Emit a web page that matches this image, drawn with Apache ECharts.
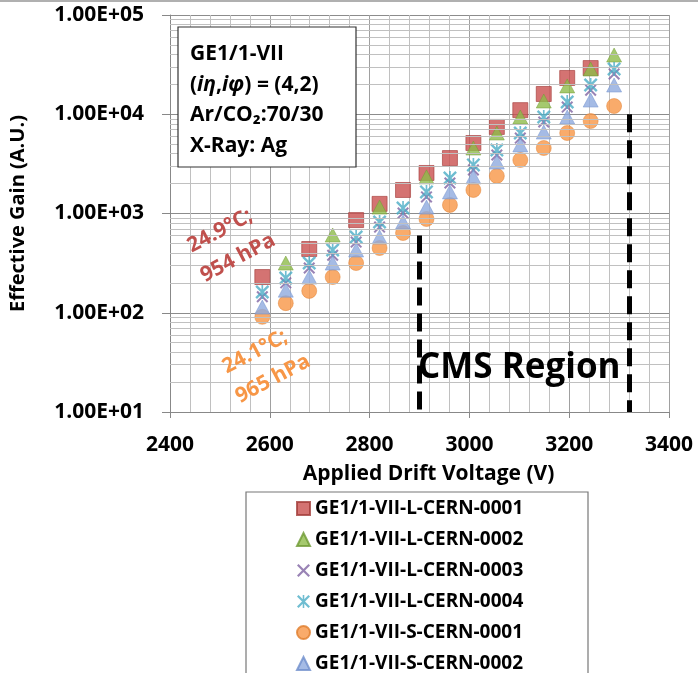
<!DOCTYPE html>
<html>
<head>
<meta charset="utf-8">
<script src="https://cdn.jsdelivr.net/npm/echarts@6/dist/echarts.min.js"></script>
<style>
  html, body { margin: 0; padding: 0; background: #fff; }
  #chart { width: 698px; height: 673px; }
</style>
</head>
<body>
<div id="chart"></div>
<script>
// drift voltage steps (V)
var voltages = [2585, 2632, 2679, 2726, 2773, 2820, 2867, 2914, 2961, 3008, 3055, 3102, 3149, 3196, 3243, 3290];

// effective gain per chamber, null = no point at that voltage
var gainL1 = [229, null, 439, null, 859, 1250, 1726, 2560, 3620, 5130, 7450, 11000, 16000, 23200, 29200, null];
var gainL2 = [null, 317, null, 607, null, 1160, null, 2340, null, 4570, 6470, 9380, 13600, 19300, 28600, 39500];
var gainL3 = [145, 200, 282, 380, 515, 730, 1010, 1470, 2030, 2750, 3890, 5750, 8350, 11800, 17500, 25500];
var gainL4 = [162, 224, 317, 429, 580, 820, 1135, 1650, 2280, 3085, 4365, 6470, 9380, 13280, 19700, 28600];
var gainS1 = [91, 125, 166, 229, 317, 449, 636, 881, 1220, 1726, 2390, 3460, 4570, 6470, 8550, 12100];
var gainS2 = [114, 169, 229, 317, 429, 580, 820, 1160, 1650, 2335, 3300, 4900, 6620, 9380, 13900, 19700];

var seriesNames = [
  "GE1/1-VII-L-CERN-0001",
  "GE1/1-VII-L-CERN-0002",
  "GE1/1-VII-L-CERN-0003",
  "GE1/1-VII-L-CERN-0004",
  "GE1/1-VII-S-CERN-0001",
  "GE1/1-VII-S-CERN-0002"
];

var xTicks = [2400, 2600, 2800, 3000, 3200, 3400];

// CMS operating region bounds (V) and top of each dashed line
var cmsLow = 2900, cmsLowTop = 600;
var cmsHigh = 3320, cmsHighTop = 10000;

var FONT = "Open Sans";

var xPath = "path://M0,1.2L1.2,0L10,8.8L8.8,10Z M8.8,0L10,1.2L1.2,10L0,8.8Z";
var starPath = "path://M0,1.2L1.2,0L10,8.8L8.8,10Z M8.8,0L10,1.2L1.2,10L0,8.8Z M4.4,0L5.6,0L5.6,10L4.4,10Z";

function pairs(vals) {
  var out = [];
  for (var i = 0; i < voltages.length; i++) {
    if (vals[i] != null) out.push([voltages[i], vals[i]]);
  }
  return out;
}

// minor log grid lines 2..9 per decade
var minorLines = [];
for (var d = 10; d < 100000; d *= 10) {
  for (var k = 2; k <= 9; k++) minorLines.push({ yAxis: d * k });
}

var myChart = echarts.init(document.getElementById("chart"));

var option = {
  animation: false,
  grid: { left: 163, right: 29, top: 15, bottom: 261 },
  legend: {
    orient: "vertical",
    left: 296,
    top: 499,
    height: 200,
    padding: 0,
    itemWidth: 13,
    itemHeight: 13,
    itemGap: 12,
    data: seriesNames,
    textStyle: { fontFamily: FONT, fontWeight: "bold", fontSize: 19, lineHeight: 18, color: "#000" }
  },
  xAxis: {
    type: "value",
    min: 2400,
    max: 3400,
    interval: 200,
    name: "Applied Drift Voltage (V)",
    nameLocation: "middle",
    nameGap: 52,
    nameTextStyle: { fontFamily: FONT, fontWeight: "bold", fontSize: 21, color: "#000", padding: [0, 0, 0, 18] },
    axisLine: { lineStyle: { color: "#888" } },
    axisTick: { show: true, length: 6, lineStyle: { color: "#888" } },
    axisLabel: {
      margin: 23,
      fontFamily: FONT, fontWeight: "bold", fontSize: 21, color: "#000",
      formatter: function (v) { return xTicks.indexOf(v) >= 0 ? String(v) : ""; }
    },
    splitLine: { show: true, lineStyle: { color: "#a0a0a0" } },
    minorTick: { show: false, splitNumber: 5 },
    minorSplitLine: { show: true, lineStyle: { color: "#c0c0c0" } }
  },
  yAxis: {
    type: "log",
    logBase: 10,
    min: 10,
    max: 100000,
    name: "Effective Gain (A.U.)",
    nameLocation: "middle",
    nameGap: 142,
    nameTextStyle: { fontFamily: FONT, fontWeight: "bold", fontSize: 20, color: "#000" },
    axisLine: { show: true, lineStyle: { color: "#888" } },
    axisTick: { show: true, length: 8, lineStyle: { color: "#888" } },
    axisLabel: {
      margin: 26,
      fontFamily: FONT, fontWeight: "bold", fontSize: 21, color: "#000",
      formatter: function (v) {
        var e = Math.round(Math.log10(v));
        return "1.00E+" + (e < 10 ? "0" : "") + e;
      }
    },
    splitLine: { show: true, lineStyle: { color: "#8c8c8c" } }
  },
  series: [
    {
      name: "grid-helper",
      type: "line",
      data: [],
      z: 1,
      silent: true,
      markLine: {
        silent: true,
        symbol: "none",
        label: { show: false },
        lineStyle: { color: "#c0c0c0", width: 1, type: "solid" },
        data: minorLines
      }
    },
    {
      name: "cms-region",
      type: "line",
      data: [],
      z: 2,
      silent: true,
      markLine: {
        silent: true,
        symbol: "none",
        label: { show: false },
        lineStyle: { color: "#000", width: 5, type: [18, 8] },
        data: [
          [{ coord: [cmsLow, cmsLowTop] }, { coord: [cmsLow, 10] }],
          [{ coord: [cmsHigh, cmsHighTop] }, { coord: [cmsHigh, 10] }]
        ]
      }
    },
    {
      name: seriesNames[0], type: "scatter", z: 3,
      symbol: "rect", symbolSize: 15,
      itemStyle: { color: "#c9504f", borderColor: "#a33c3a", borderWidth: 0.8 },
      data: pairs(gainL1)
    },
    {
      name: seriesNames[1], type: "scatter", z: 3,
      symbol: "triangle", symbolSize: [15, 14],
      itemStyle: { color: "#8fbb4a", borderColor: "#6f9a34", borderWidth: 0.6 },
      data: pairs(gainL2)
    },
    {
      name: seriesNames[2], type: "scatter", z: 3,
      symbol: xPath, symbolSize: 12,
      itemStyle: { color: "#8064a2" },
      data: pairs(gainL3)
    },
    {
      name: seriesNames[3], type: "scatter", z: 3,
      symbol: starPath, symbolSize: 14,
      itemStyle: { color: "#4bacc6" },
      data: pairs(gainL4)
    },
    {
      name: seriesNames[4], type: "scatter", z: 3,
      symbol: "circle", symbolSize: 15,
      itemStyle: { color: "#f79646", borderColor: "#e07d2c", borderWidth: 0.6 },
      data: pairs(gainS1)
    },
    {
      name: seriesNames[5], type: "scatter", z: 3,
      symbol: "triangle", symbolSize: [15, 14],
      itemStyle: { color: "#8eaade", borderColor: "#6f8fcc", borderWidth: 0.6 },
      data: pairs(gainS2)
    }
  ],
  graphic: [
    { type: "line", shape: { x1: 0, y1: 1, x2: 698, y2: 1 }, style: { stroke: "#b0b0b0", lineWidth: 2 } },
    {
      type: "rect", z: 10,
      shape: { x: 178, y: 27, width: 178, height: 140 },
      style: { fill: "#fff", stroke: "#333", lineWidth: 1.2 }
    },
    {
      type: "text", z: 11, left: 190, top: 39,
      style: {
        text: "GE1/1-VII\n({it|iη},{it|iφ}) = (4,2)\nAr/CO₂:70/30\nX-Ray: Ag",
        font: "bold 21px " + FONT,
        fill: "#000",
        lineHeight: 30.5,
        rich: { it: { fontStyle: "italic", fontWeight: "bold", fontSize: 21, fontFamily: FONT } }
      }
    },
    {
      type: "text", z: 11, x: 220, y: 231, rotation: 28 * Math.PI / 180,
      style: { text: "24.9°C;", font: "bold 21px " + FONT, fill: "#c0504d", align: "center", verticalAlign: "middle" }
    },
    {
      type: "text", z: 11, x: 238, y: 258, rotation: 28 * Math.PI / 180,
      style: { text: "954 hPa", font: "bold 21px " + FONT, fill: "#c0504d", align: "center", verticalAlign: "middle" }
    },
    {
      type: "text", z: 11, x: 255, y: 352, rotation: 28 * Math.PI / 180,
      style: { text: "24.1°C;", font: "bold 21px " + FONT, fill: "#f79646", align: "center", verticalAlign: "middle" }
    },
    {
      type: "text", z: 11, x: 273, y: 379, rotation: 28 * Math.PI / 180,
      style: { text: "965 hPa", font: "bold 21px " + FONT, fill: "#f79646", align: "center", verticalAlign: "middle" }
    },
    {
      type: "text", z: 11, x: 418, y: 368,
      style: { text: "CMS Region", font: "bold 35px " + FONT, fill: "#000", verticalAlign: "middle" }
    },
    {
      type: "rect", z: 0,
      shape: { x: 246, y: 492, width: 342, height: 200 },
      style: { fill: "none", stroke: "#777", lineWidth: 1.2 }
    }
  ]
};

myChart.setOption(option);
window.addEventListener("resize", function () {
  myChart.resize();
});
</script>
</body>
</html>
